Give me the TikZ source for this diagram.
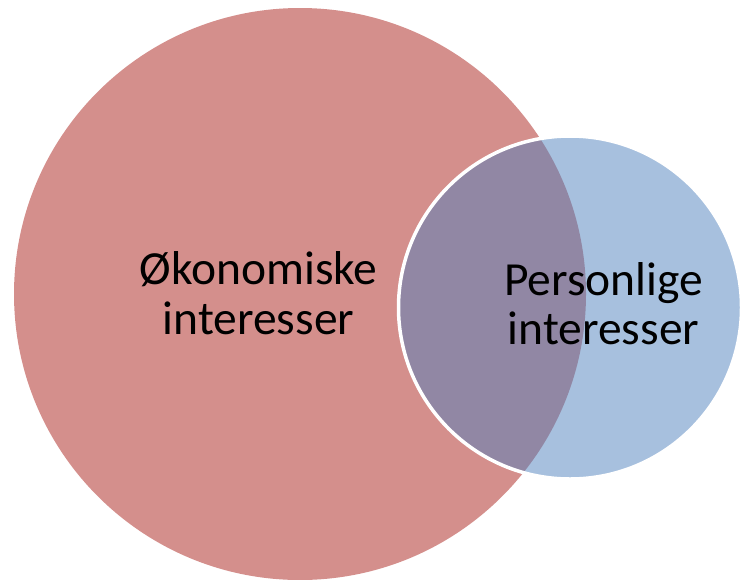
\documentclass[tikz,border=0pt]{standalone}
\usepackage{fontspec}
\setmainfont{Carlito}
\usepackage{tikz}
\usetikzlibrary{positioning}

\definecolor{okored}{RGB}{212,143,140}
\definecolor{persblue}{RGB}{79,129,189}

\begin{document}
\begin{tikzpicture}[x=1pt,y=-1pt,
		venn/.style={circle,inner sep=0pt},
		lbl/.style={align=center,inner sep=0pt,font=\fontsize{47.5}{49.5}\selectfont}]
		\useasboundingbox (0,0) rectangle (743,579);

		\node [venn,fill=okored,minimum size=572pt] (oko) at (300,294) {};
		\node [venn,fill=persblue,fill opacity=0.5,draw=white,line width=3.5pt,minimum size=343pt] (pers) at (570,307.5) {};

		\node [lbl] (okotext) at (258.5,293) {Økonomiske\\interesser};
		\node [lbl] (perstext) at (603.5,303.5) {Personlige\\interesser};
	\end{tikzpicture}
\end{document}
